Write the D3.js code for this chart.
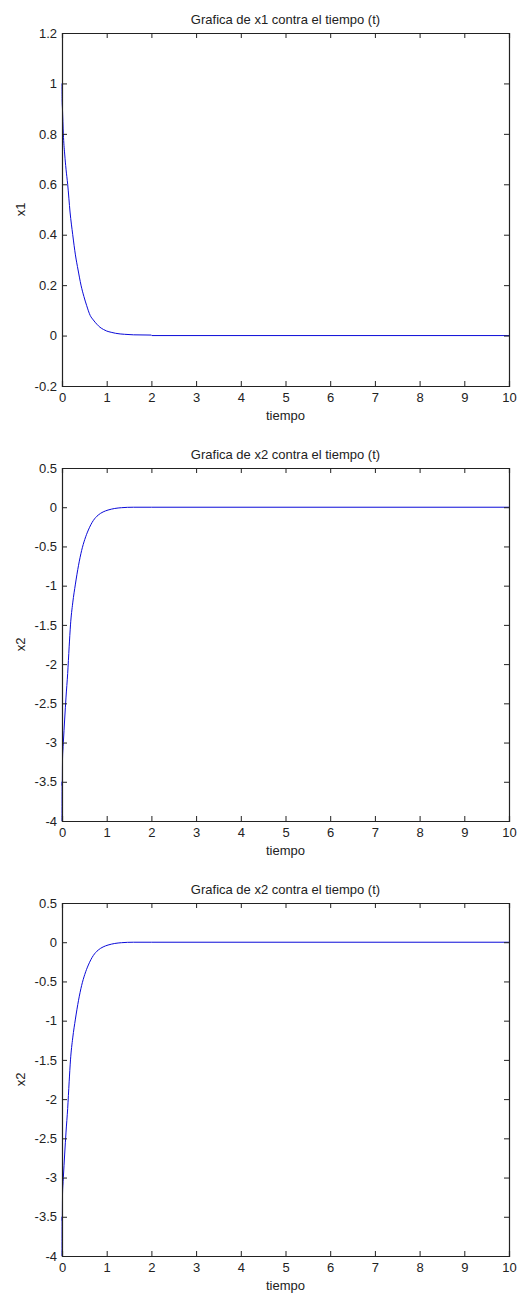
<!DOCTYPE html>
<html lang="en">
  <head>
    <meta charset="UTF-8" />
    <title>Grafica de x1 y x2 contra el tiempo</title>
    <script src="https://d3js.org/d3.v7.min.js"></script>
    <style>
      body {
        margin: 0;
        background: #fff;
      }
      svg {
        display: block;
        font-family: "Liberation Sans", Arial, sans-serif;
      }
    </style>
  </head>
  <body>
    <div id="chart"></div>
    <script>
      // values
      const timeX1 = [0, 0.003, 0.01, 0.03, 0.06, 0.09, 0.127, 0.18, 0.24, 0.3, 0.36, 0.425, 0.49, 0.55, 0.63, 0.7, 0.78, 0.85, 0.93, 1.0, 1.1, 1.2, 1.4, 1.6, 2.0, 2.01, 10];
      const x1Vals = [1, 0.93, 0.9, 0.8, 0.72, 0.66, 0.6, 0.49, 0.4, 0.32, 0.26, 0.2, 0.155, 0.12, 0.08, 0.062, 0.045, 0.033, 0.024, 0.018, 0.013, 0.009, 0.005, 0.003, 0.002, 0, 0];

      const timeX2 = [0, 0.003, 0.006, 0.012, 0.02, 0.03, 0.06, 0.09, 0.127, 0.16, 0.19, 0.24, 0.3, 0.37, 0.44, 0.51, 0.59, 0.7, 0.81, 0.92, 1.03, 1.18, 1.33, 1.6, 2, 10];
      const x2Vals = [-4, -3.5, -3.55, -3.2, -3.1, -3.0, -2.7, -2.42, -2.12, -1.78, -1.5, -1.22, -0.98, -0.74, -0.55, -0.41, -0.29, -0.17, -0.1, -0.06, -0.036, -0.016, -0.006, 0, 0, 0];

      const xTicks = [0, 1, 2, 3, 4, 5, 6, 7, 8, 9, 10];
      const x1Ticks = [-0.2, 0, 0.2, 0.4, 0.6, 0.8, 1, 1.2];
      const x2Ticks = [-4, -3.5, -3, -2.5, -2, -1.5, -1, -0.5, 0, 0.5];

      const panels = [
        { title: "Grafica de x1 contra el tiempo (t)", ylabel: "x1", t: timeX1, v: x1Vals, yTicks: x1Ticks, top: 33 },
        { title: "Grafica de x2 contra el tiempo (t)", ylabel: "x2", t: timeX2, v: x2Vals, yTicks: x2Ticks, top: 468 },
        { title: "Grafica de x2 contra el tiempo (t)", ylabel: "x2", t: timeX2, v: x2Vals, yTicks: x2Ticks, top: 903 },
      ];

      const width = 517, height = 1295;
      const left = 62, right = 509, plotH = 353;
      const tickLen = 5;
      const axisColor = "#222";
      const fontSize = "13px";

      const svg = d3.select("#chart").append("svg")
        .attr("width", width)
        .attr("height", height);

      const x = d3.scaleLinear().domain([0, 10]).range([left, right]);

      panels.forEach((p) => {
        const bottom = p.top + plotH;
        const y = d3.scaleLinear()
          .domain([p.yTicks[0], p.yTicks[p.yTicks.length - 1]])
          .range([bottom, p.top]);

        const g = svg.append("g");

        // curve
        const line = d3.line()
          .x((d, i) => x(p.t[i]))
          .y((d) => y(d))
          .curve(d3.curveMonotoneX);
        g.append("path")
          .datum(p.v)
          .attr("d", line)
          .attr("fill", "none")
          .attr("stroke", "#0a0ad8")
          .attr("stroke-width", 1);

        // inward ticks on all four sides (box)
        const bottomAxis = d3.axisBottom(x).tickValues(xTicks).tickSize(-tickLen).tickPadding(7).tickFormat(d3.format("d"));
        const topAxis = d3.axisTop(x).tickValues(xTicks).tickSize(-tickLen).tickFormat("");
        const leftAxis = d3.axisLeft(y).tickValues(p.yTicks).tickSize(-tickLen).tickPadding(5).tickFormat((d) => String(+d.toFixed(1)));
        const rightAxis = d3.axisRight(y).tickValues(p.yTicks).tickSize(-tickLen).tickFormat("");

        [
          [bottomAxis, `translate(0,${bottom})`],
          [topAxis, `translate(0,${p.top})`],
          [leftAxis, `translate(${left},0)`],
          [rightAxis, `translate(${right},0)`],
        ].forEach(([ax, tr]) => {
          const a = g.append("g").attr("transform", tr).call(ax);
          a.select(".domain").attr("stroke", axisColor).attr("stroke-width", 1.2);
          a.selectAll(".tick line").attr("stroke", axisColor);
          a.selectAll("text")
            .attr("fill", "#222")
            .style("font-size", fontSize)
            .style("font-family", "'Liberation Sans', Arial, sans-serif");
        });

        // title
        g.append("text")
          .attr("x", (left + right) / 2)
          .attr("y", p.top - 9.5)
          .attr("text-anchor", "middle")
          .style("font-size", fontSize)
          .attr("fill", "#222")
          .text(p.title);

        // x label
        g.append("text")
          .attr("x", (left + right) / 2)
          .attr("y", bottom + 34)
          .attr("text-anchor", "middle")
          .style("font-size", fontSize)
          .attr("fill", "#222")
          .text("tiempo");

        // y label
        g.append("text")
          .attr("transform", `translate(25,${(p.top + bottom) / 2}) rotate(-90)`)
          .attr("text-anchor", "middle")
          .style("font-size", fontSize)
          .attr("fill", "#222")
          .text(p.ylabel);
      });
    </script>
  </body>
</html>
